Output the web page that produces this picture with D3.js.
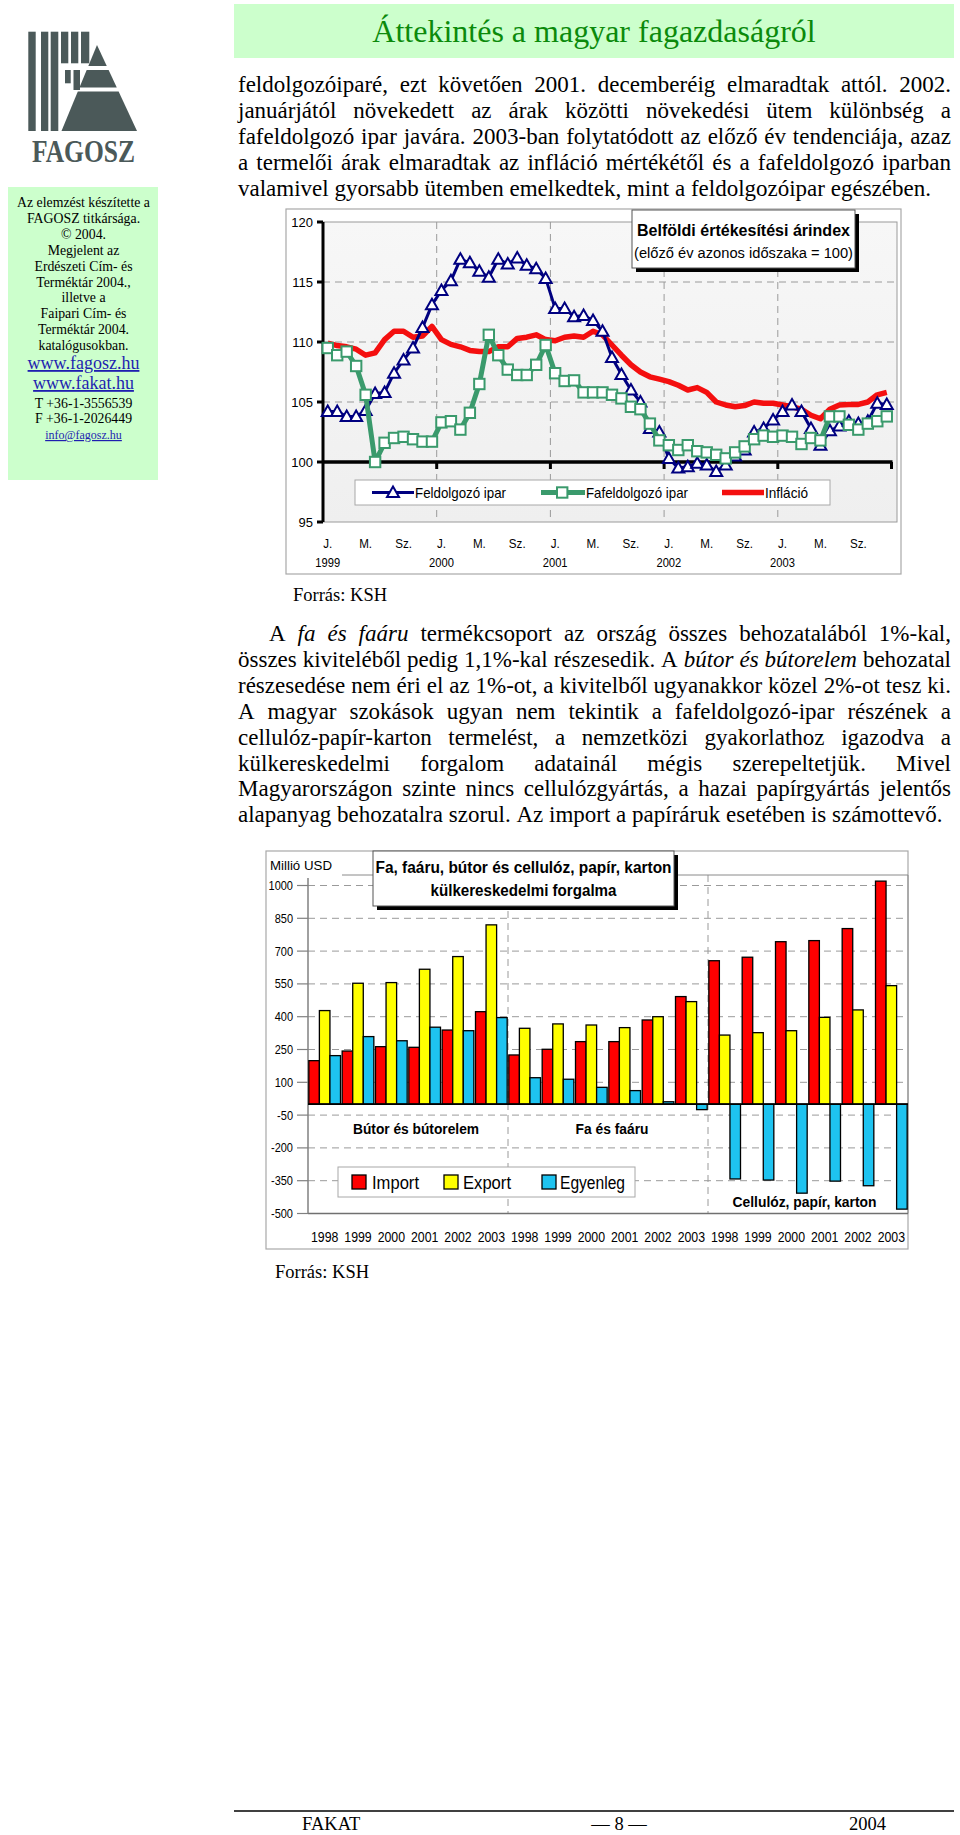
<!DOCTYPE html>
<html><head><meta charset="utf-8">
<script src="https://cdn.jsdelivr.net/npm/d3@7/dist/d3.min.js"></script>
<style>html,body{margin:0;padding:0;background:#fff}svg{display:block}</style>
</head><body>
<svg id="page" width="960" height="1835"></svg>
<script>
// ---------------- DATA ----------------
// Chart 1: Belföldi értékesítési árindex (monthly, Jan 1999 – Dec 2003)
const years1 = ["1999","2000","2001","2002","2003"];
const monthNames = ["01","02","03","04","05","06","07","08","09","10","11","12"];
const monthTickLabels = {"01":"J.","05":"M.","09":"Sz."};
const yTicks1 = [95,100,105,110,115,120];
const feldolgozo = [104.2,104.2,103.8,103.8,104.3,105.7,105.8,107.4,108.5,109.5,111.2,113.1,
  114.3,115.1,116.9,116.6,115.9,115.4,116.9,116.5,117.0,116.4,116.1,115.3,
  112.8,112.8,112.1,112.2,111.8,110.9,108.7,107.3,106.0,105.0,102.8,102.5,
  100.3,99.5,99.6,99.9,99.75,99.2,99.75,100.5,101.0,102.5,102.8,103.5,
  104.2,104.75,104.2,102.8,101.4,102.6,103.0,103.4,103.2,103.4,104.9,104.8];
const fafeldolgozo = [109.5,108.9,109.2,108.0,105.6,100.0,101.6,102.0,102.1,101.9,101.7,101.7,
  103.3,103.4,102.7,104.1,106.5,110.6,108.9,107.7,107.25,107.25,108.1,109.75,
  107.4,106.75,106.8,105.8,105.8,105.8,105.6,105.3,104.6,104.4,103.2,101.8,
  101.4,101.0,101.4,100.9,100.8,100.6,100.3,100.8,101.3,101.9,102.2,102.1,
  102.2,102.1,101.5,102.0,101.8,103.8,103.8,103.1,102.7,103.2,103.4,103.8];
const inflacio = [109.9,109.7,109.6,109.4,108.9,109.1,110.2,110.9,110.9,110.4,110.5,111.3,
  110.2,109.8,109.6,109.3,109.2,109.2,109.6,109.6,110.3,110.4,110.6,110.2,
  110.1,110.4,110.5,110.4,110.9,110.6,109.75,108.9,108.1,107.5,107.1,106.9,
  106.7,106.4,106.0,106.2,105.8,105.0,104.75,104.6,104.7,105.0,104.9,104.9,
  104.75,104.6,104.4,103.9,103.6,104.4,104.75,104.8,104.8,105.0,105.6,105.8];
const seriesNames1 = ["Feldolgozó ipar","Fafeldolgozó ipar","Infláció"];

// Chart 2: külkereskedelmi forgalom (Millió USD)
const tradeGroups = ["Bútor és bútorelem","Fa és faáru","Cellulóz, papír, karton"];
const tradeYears = ["1998","1999","2000","2001","2002","2003"];
const yTicks2 = [1000,850,700,550,400,250,100,-50,-200,-350,-500];
const importVals   = [199,243,263,260,339,423, 225,251,286,286,385,492, 656,672,743,748,803,1020];
const exportVals   = [428,553,556,617,675,820, 347,367,362,350,400,469, 316,327,336,397,431,542];
const egyenlegVals = [222,309,290,352,336,396, 121,114,77,62,11,-25, -342,-347,-407,-352,-373,-480];
const seriesNames2 = ["Import","Export","Egyenleg"];

// ---------------- HELPERS ----------------
const SANS = "'Liberation Sans', Arial, Helvetica, sans-serif";
const SERIF = "'Liberation Serif', 'Times New Roman', Times, serif";
const svg = d3.select("#page");

function txt(g, o) {
  const t = g.append("text")
    .attr("transform", `translate(${o.x},${o.y})` + (o.sx && o.sx !== 1 ? ` scale(${o.sx},1)` : ""))
    .attr("font-family", o.family || SANS)
    .attr("font-size", o.size)
    .attr("text-anchor", o.anchor || "start")
    .attr("fill", o.fill || "#000")
    .text(o.text);
  if (o.weight) t.attr("font-weight", o.weight);
  if (o.style) t.attr("font-style", o.style);
  if (o.len) t.attr("textLength", o.len).attr("lengthAdjust", "spacingAndGlyphs");
  if (o.deco) t.attr("text-decoration", o.deco);
  return t;
}

function parseWords(line) {
  const out = []; let it = false;
  line.split(" ").forEach(tok => {
    let w = tok, italic = it;
    if (w.startsWith("*")) { w = w.slice(1); italic = true; it = true; }
    if (w.endsWith("*")) { w = w.slice(0, -1); it = false; }
    out.push({w, it: italic});
  });
  return out;
}

function paragraph(g, lines, x0, x1, y0, lh, size, indent) {
  lines.forEach((line, li) => {
    const y = y0 + li * lh;
    const lx = x0 + (li === 0 ? indent : 0);
    const words = parseWords(line);
    const nodes = words.map(wd => g.append("text").attr("y", y)
      .attr("font-family", SERIF).attr("font-size", size)
      .attr("font-style", wd.it ? "italic" : null).text(wd.w));
    const widths = nodes.map(n => n.node().getComputedTextLength());
    const sum = d3.sum(widths);
    const last = li === lines.length - 1;
    const gap = last ? size * 0.25 : (x1 - lx - sum) / (words.length - 1);
    let cx = lx;
    nodes.forEach((n, i) => { n.attr("x", cx); cx += widths[i] + gap; });
  });
}

// ---------------- PAGE: sidebar ----------------
const side = svg.append("g");
const LOGO = "#4b5959";
[[28.3,31.7,7.4,99.3],[41,31.7,7.3,99.3],[50.7,31.7,7.6,99.3],[61,31.7,7.3,31.6],[71,31.7,7.3,31.6],[81,31.7,8.3,31.6],[65,70,5.7,13.3],[73.5,70,6.5,20]]
  .forEach(r => side.append("rect").attr("x", r[0]).attr("y", r[1]).attr("width", r[2]).attr("height", r[3]).attr("fill", LOGO));
(function(){
  const ax = 97, ay = 45, by = 131, lx = 61.5, rx = 137;
  const L = y => ax + (lx - ax) * (y - ay) / (by - ay);
  const R = y => ax + (rx - ax) * (y - ay) / (by - ay);
  [[ay, 66],[70, 87.5],[91.5, by]].forEach(([t, b]) => {
    side.append("polygon").attr("fill", LOGO)
      .attr("points", `${L(t)},${t} ${R(t)},${t} ${R(b)},${b} ${L(b)},${b}`);
  });
})();
txt(side, {x: 83.5, y: 162, text: "FAGOSZ", size: 31, family: SERIF, anchor: "middle", fill: LOGO, len: 103, weight: "bold"});

side.append("rect").attr("x", 8).attr("y", 187).attr("width", 150).attr("height", 293).attr("fill", "#ccffcc");
const sideLines = ["Az elemzést készítette a","FAGOSZ titkársága.","© 2004.","Megjelent az","Erdészeti Cím- és","Terméktár 2004.,","illetve a","Faipari Cím- és","Terméktár 2004.","katalógusokban."];
sideLines.forEach((s, i) => txt(side, {x: 83.5, y: 207 + i * 15.9, text: s, size: 13.8, family: SERIF, anchor: "middle"}));
txt(side, {x: 83.5, y: 369, text: "www.fagosz.hu", size: 18, family: SERIF, anchor: "middle", fill: "#1f1fb0", deco: "underline"});
txt(side, {x: 83.5, y: 389, text: "www.fakat.hu", size: 18, family: SERIF, anchor: "middle", fill: "#1f1fb0", deco: "underline"});
txt(side, {x: 83.5, y: 407.5, text: "T +36-1-3556539", size: 13.8, family: SERIF, anchor: "middle"});
txt(side, {x: 83.5, y: 423, text: "F +36-1-2026449", size: 13.8, family: SERIF, anchor: "middle"});
txt(side, {x: 83.5, y: 439, text: "info@fagosz.hu", size: 12, family: SERIF, anchor: "middle", fill: "#1f1fb0", deco: "underline"});

// ---------------- PAGE: header + text ----------------
const body = svg.append("g");
body.append("rect").attr("x", 234).attr("y", 4).attr("width", 720).attr("height", 54).attr("fill", "#ccffcc");
txt(body, {x: 594, y: 42, text: "Áttekintés a magyar fagazdaságról", size: 32, family: SERIF, anchor: "middle", fill: "#0b8a0b"});

paragraph(body, [
  "feldolgozóiparé, ezt követően 2001. decemberéig elmaradtak attól. 2002.",
  "januárjától növekedett az árak közötti növekedési ütem különbség a",
  "fafeldolgozó ipar javára. 2003-ban folytatódott az előző év tendenciája, azaz",
  "a termelői árak elmaradtak az infláció mértékétől és a fafeldolgozó iparban",
  "valamivel gyorsabb ütemben emelkedtek, mint a feldolgozóipar egészében."
], 238, 951, 91.5, 26.2, 23, 0);

paragraph(body, [
  "A *fa és faáru* termékcsoport az ország összes behozatalából 1%-kal,",
  "összes kiviteléből pedig 1,1%-kal részesedik. A *bútor és bútorelem* behozatal",
  "részesedése nem éri el az 1%-ot, a kivitelből ugyanakkor közel 2%-ot tesz ki.",
  "A magyar szokások ugyan nem tekintik a fafeldolgozó-ipar részének a",
  "cellulóz-papír-karton termelést, a nemzetközi gyakorlathoz igazodva a",
  "külkereskedelmi forgalom adatainál mégis szerepeltetjük. Mivel",
  "Magyarországon szinte nincs cellulózgyártás, a hazai papírgyártás jelentős",
  "alapanyag behozatalra szorul. Az import a papíráruk esetében is számottevő."
], 238, 951, 641, 25.9, 23, 31);

txt(body, {x: 293, y: 601, text: "Forrás: KSH", size: 18.5, family: SERIF});
txt(body, {x: 275, y: 1278, text: "Forrás: KSH", size: 18.5, family: SERIF});

// footer
body.append("line").attr("x1", 234).attr("x2", 954).attr("y1", 1811).attr("y2", 1811).attr("stroke", "#000").attr("stroke-width", 1.5);
txt(body, {x: 302, y: 1829.5, text: "FAKAT", size: 18.5, family: SERIF});
txt(body, {x: 619, y: 1829.5, text: "— 8 —", size: 18.5, family: SERIF, anchor: "middle"});
txt(body, {x: 849, y: 1829.5, text: "2004", size: 18.5, family: SERIF});

// ---------------- CHART 1 ----------------
(function(){
  const g = svg.append("g");
  const months = [];
  years1.forEach(y => monthNames.forEach(m => months.push(y + "-" + m)));
  const L = 323, R = 891.5, T = 222, B = 522;
  const x = d3.scaleBand().domain(months).range([L, R]);
  const cx = m => x(m) + x.bandwidth() / 2;
  const y = d3.scaleLinear().domain([95, 120]).range([B, T]);

  g.append("rect").attr("x", 286).attr("y", 209).attr("width", 615).attr("height", 365)
    .attr("fill", "#fff").attr("stroke", "#a8a8a8").attr("stroke-width", 1.2);
  const grad = svg.append("defs").append("linearGradient").attr("id", "pg").attr("x1", 0).attr("y1", 0).attr("x2", 0).attr("y2", 1);
  grad.append("stop").attr("offset", 0).attr("stop-color", "#f7f7f7");
  grad.append("stop").attr("offset", 1).attr("stop-color", "#efefef");
  g.append("rect").attr("x", L).attr("y", T).attr("width", 897 - L).attr("height", B - T)
    .attr("fill", "url(#pg)").attr("stroke", "#9a9a9a").attr("stroke-width", 1);

  // grid
  [105, 110, 115].forEach(v => g.append("line").attr("x1", L).attr("x2", 897).attr("y1", y(v)).attr("y2", y(v))
    .attr("stroke", "#9a9a9a").attr("stroke-dasharray", "7,5"));
  years1.slice(1).forEach(yr => g.append("line").attr("x1", x(yr + "-01")).attr("x2", x(yr + "-01"))
    .attr("y1", T).attr("y2", B).attr("stroke", "#9a9a9a").attr("stroke-dasharray", "7,5"));

  // axes
  g.append("line").attr("x1", L).attr("x2", L).attr("y1", T).attr("y2", B).attr("stroke", "#000").attr("stroke-width", 3);
  yTicks1.forEach(v => {
    g.append("line").attr("x1", L - 6).attr("x2", L).attr("y1", y(v)).attr("y2", y(v)).attr("stroke", "#000").attr("stroke-width", 3);
    txt(g, {x: 313, y: y(v) + 4.5, text: String(v), size: 13, anchor: "end"});
  });
  g.append("line").attr("x1", L).attr("x2", R + 1).attr("y1", y(100)).attr("y2", y(100)).attr("stroke", "#000").attr("stroke-width", 3.5);
  years1.slice(1).map(yr => x(yr + "-01")).concat([R]).forEach(xx =>
    g.append("line").attr("x1", xx).attr("x2", xx).attr("y1", y(100)).attr("y2", y(100) + 7).attr("stroke", "#000").attr("stroke-width", 3));

  // x labels
  months.forEach(m => {
    const mm = m.slice(5), lab = monthTickLabels[mm];
    if (lab) txt(g, {x: cx(m), y: 548, text: lab, size: 13.5, anchor: "middle", sx: 0.86});
    if (mm === "01") txt(g, {x: cx(m), y: 567, text: m.slice(0, 4), size: 13, anchor: "middle", sx: 0.86});
  });

  // series
  const line = d3.line().x((d, i) => cx(months[i])).y(d => y(d));
  g.append("path").attr("d", line(inflacio)).attr("fill", "none").attr("stroke", "#f40f0f").attr("stroke-width", 5.5).attr("stroke-linejoin", "round");
  g.append("path").attr("d", line(feldolgozo)).attr("fill", "none").attr("stroke", "#000080").attr("stroke-width", 3).attr("stroke-linejoin", "round");
  const tri = "M0,-6L6,4.5L-6,4.5Z";
  g.selectAll(".tri").data(feldolgozo).enter().append("path")
    .attr("transform", (d, i) => `translate(${cx(months[i])},${y(d)})`)
    .attr("d", tri).attr("fill", "#fff").attr("stroke", "#000080").attr("stroke-width", 2);
  g.append("path").attr("d", line(fafeldolgozo)).attr("fill", "none").attr("stroke", "#3a9a6c").attr("stroke-width", 5).attr("stroke-linejoin", "round");
  g.selectAll(".sq").data(fafeldolgozo).enter().append("rect")
    .attr("x", (d, i) => cx(months[i]) - 5.2).attr("y", d => y(d) - 5.2).attr("width", 10.4).attr("height", 10.4)
    .attr("fill", "#fff").attr("stroke", "#3a9a6c").attr("stroke-width", 2);

  // title box
  g.append("rect").attr("x", 636).attr("y", 214).attr("width", 223).attr("height", 58).attr("fill", "#000");
  g.append("rect").attr("x", 632).attr("y", 210).attr("width", 223).attr("height", 58).attr("fill", "#fff").attr("stroke", "#555").attr("stroke-width", 1);
  txt(g, {x: 743.5, y: 236, text: "Belföldi értékesítési árindex", size: 17, weight: "bold", anchor: "middle", len: 213});
  txt(g, {x: 743.5, y: 257.5, text: "(előző év azonos időszaka = 100)", size: 15.5, anchor: "middle", len: 219});

  // legend
  g.append("rect").attr("x", 355).attr("y", 480).attr("width", 475).attr("height", 25).attr("fill", "#fff").attr("stroke", "#a8a8a8");
  const ly = 492.5;
  g.append("line").attr("x1", 372).attr("x2", 414).attr("y1", ly).attr("y2", ly).attr("stroke", "#000080").attr("stroke-width", 3);
  g.append("path").attr("transform", `translate(393,${ly})`).attr("d", tri).attr("fill", "#fff").attr("stroke", "#000080").attr("stroke-width", 2);
  txt(g, {x: 415, y: ly + 5, text: seriesNames1[0], size: 14.5, len: 91});
  g.append("line").attr("x1", 541).attr("x2", 585).attr("y1", ly).attr("y2", ly).attr("stroke", "#3a9a6c").attr("stroke-width", 5);
  g.append("rect").attr("x", 557).attr("y", ly - 5.2).attr("width", 10.4).attr("height", 10.4).attr("fill", "#fff").attr("stroke", "#3a9a6c").attr("stroke-width", 2);
  txt(g, {x: 586, y: ly + 5, text: seriesNames1[1], size: 14.5, len: 102});
  g.append("line").attr("x1", 722).attr("x2", 764).attr("y1", ly).attr("y2", ly).attr("stroke", "#f40f0f").attr("stroke-width", 5.5);
  txt(g, {x: 765, y: ly + 5, text: seriesNames1[2], size: 14.5, len: 43});
})();

// ---------------- CHART 2 ----------------
(function(){
  const g = svg.append("g");
  const cats = [];
  tradeGroups.forEach(gr => tradeYears.forEach(yr => cats.push(gr + "|" + yr)));
  const L = 308, R = 908;
  const x = d3.scaleBand().domain(cats).range([L, R]).paddingInner(0.05).paddingOuter(0.025);
  const xs = d3.scaleBand().domain(seriesNames2).range([0, x.bandwidth()]);
  const y = d3.scaleLinear().domain([-500, 1000]).range([1213.5, 885.5]);
  const top = 875;

  g.append("rect").attr("x", 266).attr("y", 851).attr("width", 642).attr("height", 398)
    .attr("fill", "#fff").attr("stroke", "#a8a8a8").attr("stroke-width", 1.2);

  // grid
  yTicks2.filter(v => v > -500).forEach(v => g.append("line").attr("x1", L).attr("x2", R).attr("y1", y(v)).attr("y2", y(v))
    .attr("stroke", "#9a9a9a").attr("stroke-dasharray", "7,5"));
  [6, 12].forEach(k => g.append("line").attr("x1", L + k * x.step() + x.paddingOuter() * x.step() - x.paddingInner() * x.step() / 2)
    .attr("x2", L + k * x.step() + x.paddingOuter() * x.step() - x.paddingInner() * x.step() / 2)
    .attr("y1", top).attr("y2", y(-500)).attr("stroke", "#9a9a9a").attr("stroke-dasharray", "7,5"));
  // frame
  g.append("line").attr("x1", 342).attr("x2", R).attr("y1", top).attr("y2", top).attr("stroke", "#8a8a8a");
  g.append("line").attr("x1", R).attr("x2", R).attr("y1", top).attr("y2", y(-500)).attr("stroke", "#8a8a8a");
  g.append("line").attr("x1", L).attr("x2", R).attr("y1", y(-500)).attr("y2", y(-500)).attr("stroke", "#707070").attr("stroke-width", 1.5);
  g.append("line").attr("x1", L).attr("x2", L).attr("y1", 878).attr("y2", y(-500)).attr("stroke", "#808080").attr("stroke-width", 1.5);
  yTicks2.forEach(v => {
    g.append("line").attr("x1", 297).attr("x2", L).attr("y1", y(v)).attr("y2", y(v)).attr("stroke", "#808080").attr("stroke-width", 1.2);
    txt(g, {x: 293, y: y(v) + 4.5, text: String(v), size: 12.5, anchor: "end", sx: 0.88});
  });
  txt(g, {x: 270, y: 869.5, text: "Millió USD", size: 12.5, len: 62});

  // bars
  const series = [
    {name: seriesNames2[0], vals: importVals, color: "#ff0000"},
    {name: seriesNames2[1], vals: exportVals, color: "#ffff00"},
    {name: seriesNames2[2], vals: egyenlegVals, color: "#1ec3f0"}
  ];
  series.forEach(s => {
    g.selectAll(null).data(s.vals).enter().append("rect")
      .attr("x", (d, i) => x(cats[i]) + xs(s.name))
      .attr("width", xs.bandwidth())
      .attr("y", d => Math.min(y(d), y(0)))
      .attr("height", d => Math.abs(y(d) - y(0)))
      .attr("fill", s.color).attr("stroke", "#000").attr("stroke-width", 1.3);
  });
  g.append("line").attr("x1", L).attr("x2", R).attr("y1", y(0)).attr("y2", y(0)).attr("stroke", "#000").attr("stroke-width", 1.8);

  // year labels
  cats.forEach(c => txt(g, {x: x(c) + x.bandwidth() / 2, y: 1242, text: c.split("|")[1], size: 14.5, anchor: "middle", sx: 0.85}));

  // group labels
  txt(g, {x: 416, y: 1133.5, text: tradeGroups[0], size: 14.5, weight: "bold", anchor: "middle", len: 126});
  txt(g, {x: 612, y: 1133.5, text: tradeGroups[1], size: 14.5, weight: "bold", anchor: "middle", len: 73});
  txt(g, {x: 804.5, y: 1207, text: tradeGroups[2], size: 14.5, weight: "bold", anchor: "middle", len: 144});

  // legend
  g.append("rect").attr("x", 338).attr("y", 1167).attr("width", 297).attr("height", 30).attr("fill", "#fff").attr("stroke", "#a8a8a8");
  const lg = [[352, 372, 47], [444, 463, 48], [542, 560, 65]];
  series.forEach((s, i) => {
    g.append("rect").attr("x", lg[i][0]).attr("y", 1175).attr("width", 14).attr("height", 14).attr("fill", s.color).attr("stroke", "#000").attr("stroke-width", 1.3);
    txt(g, {x: lg[i][1], y: 1188.5, text: s.name, size: 18, len: lg[i][2]});
  });

  // title box
  g.append("rect").attr("x", 377).attr("y", 855).attr("width", 301).attr("height", 55).attr("fill", "#000");
  g.append("rect").attr("x", 373).attr("y", 851).attr("width", 301).attr("height", 55).attr("fill", "#fff").attr("stroke", "#555");
  txt(g, {x: 523.5, y: 872.5, text: "Fa, faáru, bútor és cellulóz, papír, karton", size: 16, weight: "bold", anchor: "middle", len: 296});
  txt(g, {x: 523.5, y: 896, text: "külkereskedelmi forgalma", size: 16, weight: "bold", anchor: "middle", len: 186});
})();
</script>
</body></html>
